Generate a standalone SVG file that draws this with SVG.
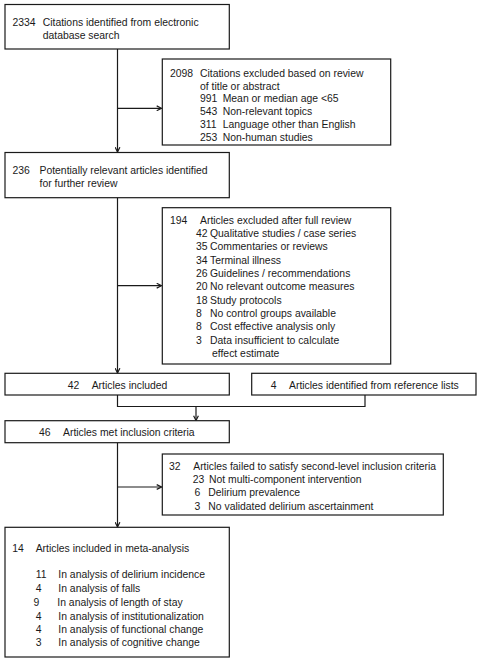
<svg xmlns="http://www.w3.org/2000/svg" width="482" height="667" viewBox="0 0 482 667">
<defs>
<marker id="ah" viewBox="0 0 10 10" refX="9" refY="5" markerWidth="6" markerHeight="6" markerUnits="userSpaceOnUse" orient="auto">
<path d="M1,1 L9,5 L1,9" fill="none" stroke="#1a1a1a" stroke-width="2"/>
</marker>
<style>
.box{fill:#fff;stroke:#1a1a1a;stroke-width:1.2}
.ln{fill:none;stroke:#1a1a1a;stroke-width:1.2}
text{font-family:"Liberation Sans",Arial,sans-serif;font-size:10.4px;fill:#1a1a1a}
</style>
</defs>
<rect width="482" height="667" fill="#fff"/>
<g id="connectors">
<path class="ln" d="M117.5,49 V152" marker-end="url(#ah)"/>
<path class="ln" d="M117.5,108.3 H161.5" marker-end="url(#ah)"/>
<path class="ln" d="M117.5,197.7 V373" marker-end="url(#ah)"/>
<path class="ln" d="M117.5,285.7 H161.5" marker-end="url(#ah)"/>
<path class="ln" d="M117.5,395 V406.5 H365 V395"/>
<path class="ln" d="M196,406.5 V420.5" marker-end="url(#ah)"/>
<path class="ln" d="M117.5,442.7 V527" marker-end="url(#ah)"/>
<path class="ln" d="M117.5,487 H161.5" marker-end="url(#ah)"/>
</g>
<g id="n2334">
<rect class="box" x="5" y="4.5" width="224.3" height="44.5"/>
<text x="12.5" y="26">2334</text>
<text x="42.7" y="26">Citations identified from electronic</text>
<text x="42.7" y="38.5">database search</text>
</g>
<g id="n2098">
<rect class="box" x="162.3" y="59" width="228.4" height="86"/>
<text x="170" y="76.8">2098</text>
<text x="200" y="76.8">Citations excluded based on review</text>
<text x="200" y="89.6">of title or abstract</text>
<text x="200" y="102.4">991</text><text x="222.7" y="102.4">Mean or median age &lt;65</text>
<text x="200" y="115.2">543</text><text x="222.7" y="115.2">Non-relevant topics</text>
<text x="200" y="128">311</text><text x="222.7" y="128">Language other than English</text>
<text x="200" y="140.8">253</text><text x="222.7" y="140.8">Non-human studies</text>
</g>
<g id="n236">
<rect class="box" x="5" y="152.5" width="224.3" height="45.2"/>
<text x="12.5" y="173.5">236</text>
<text x="39.5" y="173.5">Potentially relevant articles identified</text>
<text x="39.5" y="187">for further review</text>
</g>
<g id="n194">
<rect class="box" x="162.3" y="207.7" width="228.4" height="156.3"/>
<text x="170" y="223.5">194</text>
<text x="200" y="223.5">Articles excluded after full review</text>
<text x="196" y="236.9">42</text><text x="210" y="236.9">Qualitative studies / case series</text>
<text x="196" y="250.2">35</text><text x="210" y="250.2">Commentaries or reviews</text>
<text x="196" y="263.6">34</text><text x="210" y="263.6">Terminal illness</text>
<text x="196" y="276.9">26</text><text x="210" y="276.9">Guidelines / recommendations</text>
<text x="196" y="290.3">20</text><text x="210" y="290.3">No relevant outcome measures</text>
<text x="196" y="303.6">18</text><text x="210" y="303.6">Study protocols</text>
<text x="196" y="317">8</text><text x="210" y="317">No control groups available</text>
<text x="196" y="330.3">8</text><text x="210" y="330.3">Cost effective analysis only</text>
<text x="196" y="343.7">3</text><text x="210" y="343.7">Data insufficient to calculate</text>
<text x="212" y="357">effect estimate</text>
</g>
<g id="n42">
<rect class="box" x="5" y="373.3" width="224.3" height="21.7"/>
<text x="67.7" y="388.5">42</text>
<text x="91.7" y="388.5">Articles included</text>
</g>
<g id="n4">
<rect class="box" x="251.7" y="373.3" width="224.3" height="21.7"/>
<text x="270.7" y="388.5">4</text>
<text x="289" y="388.5">Articles identified from reference lists</text>
</g>
<g id="n46">
<rect class="box" x="5" y="420.7" width="224.3" height="22"/>
<text x="39" y="436">46</text>
<text x="63" y="436">Articles met inclusion criteria</text>
</g>
<g id="n32">
<rect class="box" x="162.3" y="454" width="281" height="61"/>
<text x="169" y="469.5">32</text>
<text x="193.3" y="469.5" textLength="242.7" lengthAdjust="spacingAndGlyphs">Articles failed to satisfy second-level inclusion criteria</text>
<text x="192.7" y="482.8">23</text><text x="209" y="482.8">Not multi-component intervention</text>
<text x="194.5" y="496.2">6</text><text x="208.3" y="496.2">Delirium prevalence</text>
<text x="194.5" y="509.5">3</text><text x="208.3" y="509.5">No validated delirium ascertainment</text>
</g>
<g id="n14">
<rect class="box" x="5" y="527.3" width="224.3" height="129.7"/>
<text x="12.3" y="552">14</text>
<text x="35.7" y="552">Articles included in meta-analysis</text>
<text x="35.7" y="578.2">11</text><text x="58.3" y="578.2">In analysis of delirium incidence</text>
<text x="35.7" y="591.8">4</text><text x="58.3" y="591.8">In analysis of falls</text>
<text x="33.5" y="605.8">9</text><text x="57.3" y="605.8">In analysis of length of stay</text>
<text x="35.7" y="619.5">4</text><text x="58.3" y="619.5">In analysis of institutionalization</text>
<text x="35.7" y="632.8">4</text><text x="58.3" y="632.8">In analysis of functional change</text>
<text x="35.7" y="645.8">3</text><text x="58.3" y="645.8">In analysis of cognitive change</text>
</g>
</svg>
